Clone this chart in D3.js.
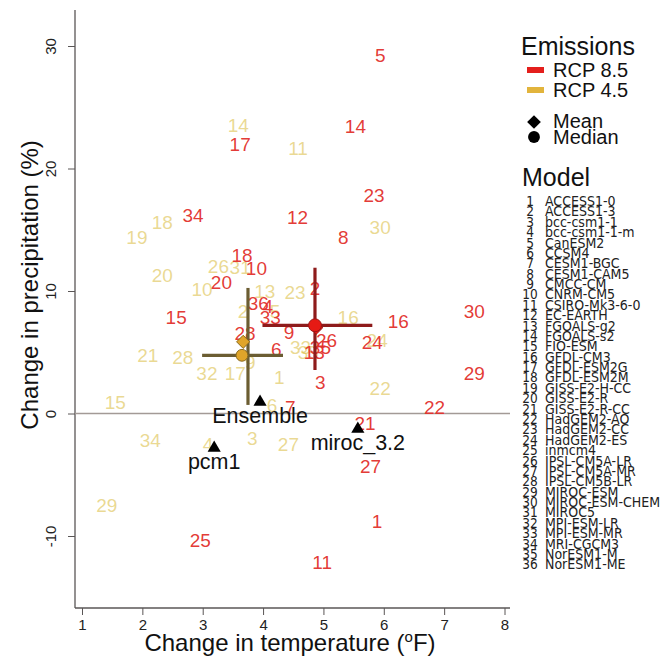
<!DOCTYPE html>
<html>
<head>
<meta charset="utf-8">
<script src="https://cdn.jsdelivr.net/npm/d3@7"></script>
<style>
  body { margin: 0; background: #fff; }
  text { font-family: "Liberation Sans", Arial, sans-serif; }
</style>
</head>
<body>
<svg id="chart" width="662" height="660"></svg>
<script>
// CMIP5 model names, numbered 1..36 in the key
const modelNames = [
  "ACCESS1-0", "ACCESS1-3", "bcc-csm1-1", "bcc-csm1-1-m", "CanESM2", "CCSM4",
  "CESM1-BGC", "CESM1-CAM5", "CMCC-CM", "CNRM-CM5", "CSIRO-Mk3-6-0", "EC-EARTH",
  "FGOALS-g2", "FGOALS-s2", "FIO-ESM", "GFDL-CM3", "GFDL-ESM2G", "GFDL-ESM2M",
  "GISS-E2-H-CC", "GISS-E2-R", "GISS-E2-R-CC", "HadGEM2-AO", "HadGEM2-CC", "HadGEM2-ES",
  "inmcm4", "IPSL-CM5A-LR", "IPSL-CM5A-MR", "IPSL-CM5B-LR", "MIROC-ESM", "MIROC-ESM-CHEM",
  "MIROC5", "MPI-ESM-LR", "MPI-ESM-MR", "MRI-CGCM3", "NorESM1-M", "NorESM1-ME"
];

// RCP 8.5: model number, temperature change (°F), precipitation change (%)
const rcp85Id     = [5, 14, 17, 23, 12, 8, 34, 18, 10, 20, 15, 36, 4, 33, 28, 6, 9, 2, 3, 26, 35, 13, 16, 24, 30, 29, 22, 21, 27, 1, 11, 25, 7];
const rcp85Temp   = [5.94, 5.53, 3.62, 5.84, 4.57, 5.33, 2.84, 3.65, 3.89, 3.31, 2.56, 3.92, 4.08, 4.12, 3.70, 4.22, 4.43, 4.86, 4.95, 5.05, 4.95, 4.85, 6.24, 5.81, 7.50, 7.50, 6.84, 5.69, 5.78, 5.89, 4.98, 2.96, 4.45];
const rcp85Precip = [29.2, 23.4, 22.0, 17.8, 16.0, 14.4, 16.2, 12.9, 11.8, 10.7, 7.8, 9.0, 8.7, 7.8, 6.5, 5.2, 6.6, 10.2, 2.5, 6.0, 5.4, 5.0, 7.5, 5.8, 8.3, 3.3, 0.5, -0.8, -4.3, -8.8, -12.2, -10.4, 0.5];

// RCP 4.5: model number, temperature change (°F), precipitation change (%)
const rcp45Id     = [14, 11, 30, 19, 18, 20, 10, 26, 31, 13, 2, 23, 5, 16, 24, 22, 33, 35, 21, 28, 32, 17, 15, 1, 9, 6, 3, 27, 34, 4, 29];
const rcp45Temp   = [3.59, 4.58, 5.94, 1.91, 2.33, 2.33, 2.99, 3.26, 3.62, 4.03, 3.67, 4.53, 4.20, 5.41, 5.89, 5.94, 4.62, 4.75, 2.09, 2.67, 3.07, 3.54, 1.55, 4.27, 3.79, 4.15, 3.82, 4.42, 2.13, 3.09, 1.41];
const rcp45Precip = [23.5, 21.6, 15.2, 14.4, 15.6, 11.3, 10.1, 12.0, 11.9, 10.0, 8.3, 9.9, 8.3, 7.8, 6.0, 2.05, 5.4, 5.0, 4.75, 4.6, 3.3, 3.3, 0.9, 2.95, 4.2, 0.65, -2.0, -2.5, -2.2, -2.5, -7.5];

// Multi-model summary: median, mean and spread of each scenario
const rcp85Median = [4.86, 7.2];
const rcp85Mean   = [4.88, 7.0];
const rcp85TempRange   = [3.99, 5.81];
const rcp85PrecipRange = [3.55, 11.9];
const rcp45Median = [3.65, 4.75];
const rcp45Mean   = [3.67, 5.85];
const rcp45TempRange   = [2.99, 4.33];
const rcp45PrecipRange = [0.7, 10.25];
const rcp45CrossTemp = 3.75;

// Earlier-generation reference runs
const refLabels = ["Ensemble", "pcm1", "miroc_3.2"];
const refTemp   = [3.95, 3.19, 5.57];
const refPrecip = [0.94, -2.82, -1.27];

const xTicks = [1, 2, 3, 4, 5, 6, 7, 8];
const yTicks = [-10, 0, 10, 20, 30];

const red = "#e2302b", gold = "#dcc04a";
const redDark = "#8e1b1b", goldDark = "#6b5d32";

const svg = d3.select("#chart");
svg.append("rect").attr("width", 662).attr("height", 660).attr("fill", "#fff");

const x = d3.scaleLinear().domain([1, 8]).range([82, 504.5]);
const y = d3.scaleLinear().domain([0, 30]).range([413.5, 46]);

const plotLeft = 75, plotRight = 510, plotTop = 10, plotBottom = 608;
const axisColor = "#5a5656";

// frame (left and bottom)
svg.append("line").attr("x1", plotLeft).attr("x2", plotLeft).attr("y1", plotTop).attr("y2", plotBottom)
  .attr("stroke", axisColor).attr("stroke-width", 1.3);
svg.append("line").attr("x1", plotLeft).attr("x2", plotRight).attr("y1", plotBottom).attr("y2", plotBottom)
  .attr("stroke", axisColor).attr("stroke-width", 1.3);

// axes
const xAxis = svg.append("g").attr("transform", `translate(0,${plotBottom})`)
  .call(d3.axisBottom(x).tickValues(xTicks).tickSize(7).tickPadding(4).tickFormat(d3.format("d")));
xAxis.select(".domain").remove();
xAxis.selectAll("line").attr("stroke", axisColor);
xAxis.selectAll("text").attr("font-size", 15).attr("fill", "#222")
  .style("font-family", "Liberation Sans, Arial, sans-serif");

const yAxis = svg.append("g").attr("transform", `translate(${plotLeft},0)`)
  .call(d3.axisLeft(y).tickValues(yTicks).tickSize(7).tickFormat(d3.format("d")));
yAxis.select(".domain").remove();
yAxis.selectAll("line").attr("stroke", axisColor);
yAxis.selectAll("text").remove();
yAxis.selectAll(".tick").append("text")
  .attr("transform", "translate(-19,0) rotate(-90)")
  .attr("text-anchor", "middle")
  .attr("font-size", 15).attr("fill", "#222")
  .text(d => d);

// zero-change line
svg.append("line").attr("x1", plotLeft).attr("x2", plotRight).attr("y1", y(0)).attr("y2", y(0))
  .attr("stroke", "#a39a96").attr("stroke-width", 1.6);

// axis titles
svg.append("text").attr("x", 290).attr("y", 651).attr("text-anchor", "middle")
  .attr("font-size", 24).attr("fill", "#111")
  .call(t => {
    t.append("tspan").text("Change in temperature (");
    t.append("tspan").attr("font-size", 15).attr("dy", -9).text("o");
    t.append("tspan").attr("dy", 9).text("F)");
  });
svg.append("text").attr("transform", `translate(38,${y(10.5)}) rotate(-90)`)
  .attr("text-anchor", "middle").attr("font-size", 24).attr("fill", "#111")
  .text("Change in precipitation (%)");

// model-number labels
function drawLabels(ids, temps, precips, color, opacity) {
  svg.append("g").selectAll("text").data(ids).join("text")
    .attr("x", (d, i) => x(temps[i]))
    .attr("y", (d, i) => y(precips[i]))
    .attr("text-anchor", "middle").attr("dominant-baseline", "central")
    .attr("font-size", 19).attr("fill", color).attr("fill-opacity", opacity)
    .text(d => d);
}
drawLabels(rcp45Id, rcp45Temp, rcp45Precip, gold, 0.6);
drawLabels(rcp85Id, rcp85Temp, rcp85Precip, red, 0.95);

// spread crosses
function drawCross(tRange, pRange, crossT, crossP, color) {
  svg.append("line").attr("x1", x(crossT)).attr("x2", x(crossT))
    .attr("y1", y(pRange[0])).attr("y2", y(pRange[1]))
    .attr("stroke", color).attr("stroke-width", 3.2);
  svg.append("line").attr("x1", x(tRange[0])).attr("x2", x(tRange[1]))
    .attr("y1", y(crossP)).attr("y2", y(crossP))
    .attr("stroke", color).attr("stroke-width", 3.2);
}
drawCross(rcp45TempRange, rcp45PrecipRange, rcp45CrossTemp, rcp45Median[1], goldDark);
drawCross(rcp85TempRange, rcp85PrecipRange, rcp85Median[0], rcp85Median[1], redDark);

const diamond = d3.symbol().type(d3.symbolDiamond2);
const circle = d3.symbol().type(d3.symbolCircle);

// mean (diamond) and median (circle) markers
svg.append("path").attr("d", diamond.size(110)())
  .attr("transform", `translate(${x(rcp45Mean[0])},${y(rcp45Mean[1])})`)
  .attr("fill", "#e0a52a").attr("stroke", "#8a6a1e").attr("stroke-width", 1);
svg.append("path").attr("d", circle.size(110)())
  .attr("transform", `translate(${x(rcp45Median[0])},${y(rcp45Median[1])})`)
  .attr("fill", "#e0a52a").attr("stroke", "#8a6a1e").attr("stroke-width", 1);
svg.append("path").attr("d", diamond.size(110)())
  .attr("transform", `translate(${x(rcp85Mean[0])},${y(rcp85Mean[1])})`)
  .attr("fill", "#e61a14").attr("stroke", "#9e1414").attr("stroke-width", 1);
svg.append("path").attr("d", circle.size(130)())
  .attr("transform", `translate(${x(rcp85Median[0])},${y(rcp85Median[1])})`)
  .attr("fill", "#e61a14").attr("stroke", "#9e1414").attr("stroke-width", 1);

// reference runs: triangles with names underneath
const tri = d3.symbol().type(d3.symbolTriangle).size(75);
refLabels.forEach((name, i) => {
  const cx = x(refTemp[i]), cy = y(refPrecip[i]);
  svg.append("path").attr("d", tri()).attr("transform", `translate(${cx},${cy})`).attr("fill", "#000");
  svg.append("text").attr("x", cx).attr("y", cy + 21).attr("text-anchor", "middle")
    .attr("font-size", 21.5).attr("fill", "#111").text(name);
});

// legend
const lg = svg.append("g");
lg.append("text").attr("x", 521).attr("y", 55).attr("font-size", 25).attr("fill", "#111").text("Emissions");
[["RCP 8.5", "#e41f1c"], ["RCP 4.5", "#e2b43c"]].forEach(([lab, c], i) => {
  lg.append("rect").attr("x", 527).attr("y", 67 + i * 20).attr("width", 17).attr("height", 6).attr("fill", c);
  lg.append("text").attr("x", 553).attr("y", 77 + i * 20).attr("font-size", 20).attr("fill", "#111").text(lab);
});
lg.append("path").attr("d", diamond.size(120)()).attr("transform", "translate(534,122)").attr("fill", "#000");
lg.append("text").attr("x", 553).attr("y", 128).attr("font-size", 20).attr("fill", "#111").text("Mean");
lg.append("path").attr("d", circle.size(110)()).attr("transform", "translate(534,137)").attr("fill", "#000");
lg.append("text").attr("x", 553).attr("y", 144).attr("font-size", 20).attr("fill", "#111").text("Median");

lg.append("text").attr("x", 522).attr("y", 186).attr("font-size", 25).attr("fill", "#111").text("Model");
const rowY = i => 201 + i * 10.38;
const listFont = "Liberation Sans Narrow, DejaVu Sans Condensed, sans-serif";
modelNames.forEach((name, i) => {
  lg.append("text").attr("x", 530).attr("y", rowY(i)).attr("dominant-baseline", "central")
    .attr("text-anchor", "middle").attr("font-size", 13.5).attr("fill", "#222")
    .style("font-family", listFont).text(i + 1);
  lg.append("text").attr("x", 545).attr("y", rowY(i)).attr("dominant-baseline", "central")
    .attr("font-size", 14).attr("fill", "#222")
    .style("font-family", listFont).text(name);
});
</script>
</body>
</html>
